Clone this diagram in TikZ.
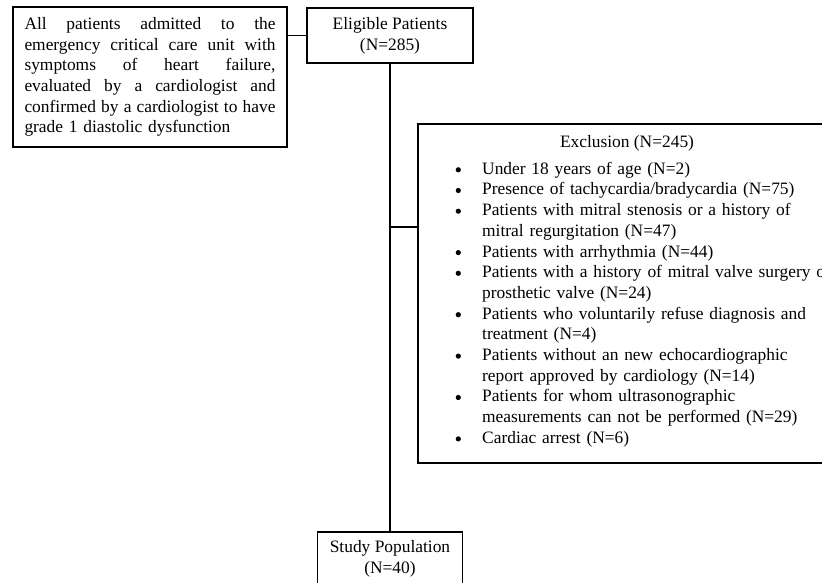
\documentclass[tikz,border=0pt]{standalone}
\usepackage{fontspec}
\setmainfont{Liberation Serif}
\tikzset{
  box/.style={draw=black, line width=1.6pt, inner sep=0pt, align=center},
  link/.style={draw=black, line width=1.6pt},
}
\newcommand{\xbullet}{\raisebox{1.8pt}{\tikz\fill (0,0) circle (2.6pt);}}
\newcommand{\xitem}[1]{\par\hangindent=42pt\hangafter=1\noindent\makebox[42pt][l]{\hspace{15.5pt}\xbullet}#1}
\newcommand{\jline}[1]{\hbox to 251pt{#1}}
\begin{document}
\begin{tikzpicture}[x=1pt,y=-1pt,font=\fontsize{17.4}{20.7}\selectfont]
\useasboundingbox (0,0) rectangle (822,582);
\clip (0,0) rectangle (822,582);
\node[box, minimum width=274pt, minimum height=140pt, text width=251pt, align=left] (criteria) at (150,77)
  {\jline{All\hfill patients\hfill admitted\hfill to\hfill the}
   \jline{emergency\hfill critical\hfill care\hfill unit\hfill with}
   \jline{symptoms\hfill of\hfill heart\hfill failure,}
   \jline{evaluated\hfill by\hfill a\hfill cardiologist\hfill and}
   \jline{confirmed\hfill by\hfill a\hfill cardiologist\hfill to\hfill have}
   \hbox{grade 1 diastolic dysfunction}};
\node[box, minimum width=166pt, minimum height=55pt] (elig) at (390,35.5) {Eligible Patients\\(N=285)};
\node[box, minimum width=418pt, minimum height=339pt] (exclusion) at (627,293.5) {};
\node[inner sep=0pt, anchor=base] (excltitle) at (627,147) {Exclusion (N=245)};
\node[inner sep=0pt, anchor=base west, text width=400pt, align=left] (excllist) at (440,153.5)
  {\xitem{Under 18 years of age (N=2)}
   \xitem{Presence of tachycardia/bradycardia (N=75)}
   \xitem{Patients with mitral stenosis or a history of\newline mitral regurgitation (N=47)}
   \xitem{Patients with arrhythmia (N=44)}
   \xitem{Patients with a history of mitral valve surgery or\newline prosthetic valve (N=24)}
   \xitem{Patients who voluntarily refuse diagnosis and\newline treatment (N=4)}
   \xitem{Patients without an new echocardiographic\newline report approved by cardiology (N=14)}
   \xitem{Patients for whom ultrasonographic\newline measurements can not be performed (N=29)}
   \xitem{Cardiac arrest (N=6)}};
\node[box, minimum width=145pt, minimum height=54pt] (study) at (390,559) {Study Population\\(N=40)};
\coordinate (branch) at (390,227);
\draw[link] (elig.west) -- (elig.west -| criteria.east);
\draw[link] (elig.south) -- (study.north);
\draw[link] (branch) -- (branch -| exclusion.west);
\end{tikzpicture}
\end{document}
